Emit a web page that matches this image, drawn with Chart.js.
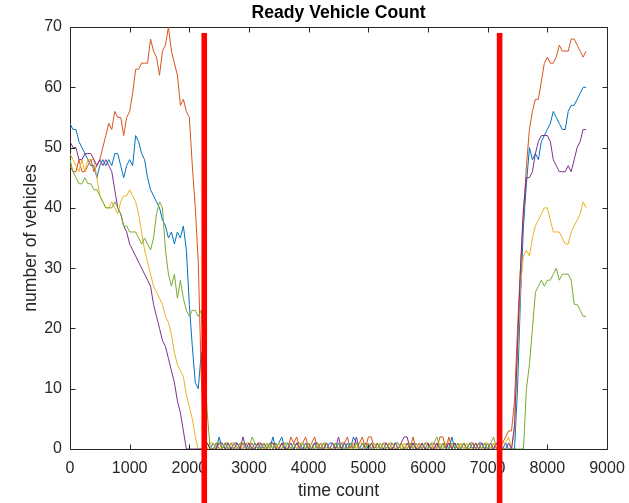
<!DOCTYPE html>
<html>
<head>
<meta charset="utf-8">
<script src="https://cdn.jsdelivr.net/npm/chart.js@4.4.0/dist/chart.umd.min.js"></script>
<style>
html,body{margin:0;padding:0;background:#fff;}
canvas{display:block;}
</style>
</head>
<body>
<canvas id="c" width="629" height="503"></canvas>
<script>
// ---------- data ----------
const timeCount = [
0,50,100,150,200,250,300,350,400,450,
500,550,600,650,700,750,800,850,900,950,
1000,1050,1100,1150,1200,1250,1300,1350,1400,1450,
1500,1550,1600,1650,1700,1750,1800,1850,1900,1950,
2000,2050,2100,2150,2200,2250,2300,2350,2400,2450,
2500,2550,2600,2650,2700,2750,2800,2850,2900,2950,
3000,3050,3100,3150,3200,3250,3300,3350,3400,3450,
3500,3550,3600,3650,3700,3750,3800,3850,3900,3950,
4000,4050,4100,4150,4200,4250,4300,4350,4400,4450,
4500,4550,4600,4650,4700,4750,4800,4850,4900,4950,
5000,5050,5100,5150,5200,5250,5300,5350,5400,5450,
5500,5550,5600,5650,5700,5750,5800,5850,5900,5950,
6000,6050,6100,6150,6200,6250,6300,6350,6400,6450,
6500,6550,6600,6650,6700,6750,6800,6850,6900,6950,
7000,7050,7100,7150,7200,7250,7300,7350,7400,7450,
7500,7550,7600,7650,7700,7750,7800,7850,7900,7950,
8000,8050,8100,8150,8200,8250,8300,8350,8400,8450,
8500,8550,8600,8650
];

// series 1 (blue)
const series1 = [
54,53,53,51,50,49,48,47,47,45, 47,48,47,48,47,49,49,47,45,47,
48,47,52,51,49,48,45,43,42,41, 40,38,37,35,36,34,36,35,37,33,
24,17,11,10,16,0,1,0,
1,0,2,0,1,0,0,1,1,0, 0,1,0,0,1,0,1,0,1,0, 2,0,1,2,0,1,0,0,1,1,
0,0,1,0,1,0,0,1,0,1, 1,0,1,0,0,1,0,2,1,0, 0,1,0,0,1,0,1,0,0,1,
0,1,1,0,0,1,0,1,0,0, 1,0,0,1,0,1,0,0,1,0, 2,0,1,0,1,0,0,1,0,1,
1,0,1,0,0,1,0,0,1,0,
0,0,10,25,37,44,50,48,49,48,51,52,53,54,56,55,54,53,53,56,57,57,58,59,60,60
];

// series 2 (orange)
const series2 = [
47,46,46,48,46,46,47,48,46,47, 48,50,52,54,53,56,55,55,52,55,
56,59,63,63,64,64,64,68,66,65, 62,66,67,70,66,64,62,57,58,56,
55,47,40,31,12,0,1,0,
0,1,0,0,1,1,0,1,0,0, 1,0,0,1,0,1,1,0,0,1, 0,1,0,1,0,0,2,1,2,0,
1,2,0,1,2,0,1,0,1,0, 0,1,0,1,1,2,0,1,0,1, 2,0,2,2,0,1,0,1,1,0,
1,0,0,1,0,1,0,2,0,1, 0,1,1,0,1,0,2,2,0,2, 0,1,0,1,0,0,1,1,0,1,
0,1,0,0,1,0,1,1,2,3,
3,8,20,30,39,47,53,56,58,58,61,64,65,64,64,65,67,66,66,66,68,68,67,66,65,66
];

// series 3 (yellow)
const series3 = [
49,48,47,46,48,46,48,48,48,45, 42,41,40,40,41,40,39,41,42,42,
43,42,41,39,36,33,31,29,27,26, 25,24,22,21,19,16,14,13,12,9,
7,5,2,0,0,0,0,1,
1,0,0,1,0,0,1,1,0,1, 0,1,1,0,0,1,0,0,1,0, 1,0,1,0,1,0,0,1,0,1,
1,0,0,1,0,1,0,1,0,0, 0,1,0,0,1,0,0,1,0,1, 1,0,1,0,1,0,1,0,0,1,
0,0,1,0,1,0,1,0,1,0, 1,0,0,1,0,0,1,0,1,1, 0,1,0,1,0,1,0,0,1,0,
0,1,1,0,1,0,0,1,1,2,
0,3,15,27,32,33,32,35,37,38,39,40,40,38,36,36,36,35,34,34,36,37,38,39,41,40
];

// series 4 (purple)
const series4 = [
51,50,50,48,48,49,49,49,48,47, 48,47,48,47,46,43,40,39,37,36,
34,33,32,31,30,29,28,27,24,22, 20,18,17,15,13,11,8,6,3,0,
0,0,0,0,0,0,1,0,
0,0,1,1,0,1,0,0,1,0, 2,0,1,0,0,1,0,1,0,1, 1,0,0,1,0,0,1,0,1,0,
0,1,0,0,1,1,0,0,1,0, 1,0,2,0,1,0,1,0,2,0, 1,0,0,1,0,1,0,0,1,0,
0,1,0,1,2,2,0,1,0,0, 1,0,1,0,0,1,0,1,0,1, 0,1,0,0,1,0,1,0,1,0,
1,0,0,1,0,1,1,0,0,1,
0,4,17,30,40,45,45,46,49,51,52,52,52,51,48,47,46,46,46,47,46,48,50,51,53,53
];

// series 5 (green)
const series5 = [
48,46,45,44,44,45,44,44,43,43, 42,41,40,40,40,41,40,39,37,37,
36,36,36,35,34,35,34,33,35,39, 41,40,33,29,27,29,25,28,25,23,
22,23,23,22,23,14,6,0,
0,1,1,0,1,0,1,0,0,1, 1,0,0,2,1,0,0,1,0,1, 0,1,0,0,1,1,0,1,0,0,
1,0,1,0,0,1,0,1,1,0, 0,1,0,1,0,0,1,0,1,0, 1,0,1,0,0,1,0,1,0,1,
1,0,0,1,0,0,1,0,1,0, 0,1,0,1,1,2,0,1,0,0, 1,0,1,0,1,0,1,0,0,1,
0,1,0,1,2,0,1,0,0,0,
0,0,0,0,0,10,14,20,26,27,28,27,28,28,29,30,28,29,29,29,28,24,24,23,22,22
];

const seriesColors = ['#0072BD','#D95319','#EDB120','#7E2F8E','#77AC30'];
const xTickValues = [0,1000,2000,3000,4000,5000,6000,7000,8000,9000];
const yTickValues = [0,10,20,30,40,50,60,70];
const markerTimes = [2250, 7200];
const markerRange = [69, -10];

// ---------- chart ----------
const FONT = "'Liberation Sans', Arial, Helvetica, sans-serif";
const allSeries = [series1, series2, series3, series4, series5];
allSeries.forEach((s, i) => {
  if (s.length !== timeCount.length) throw new Error('series' + (i+1) + ' length ' + s.length + ' vs ' + timeCount.length);
});

function toPoints(vals) { return timeCount.map((t, i) => ({x: t, y: vals[i]})); }

const datasets = allSeries.map((s, i) => ({
  data: toPoints(s),
  borderColor: seriesColors[i],
  borderWidth: 1,
  pointRadius: 0,
  tension: 0,
  fill: false,
  order: 5 - i
}));
markerTimes.forEach(t => {
  datasets.push({
    data: [{x: t, y: markerRange[0]}, {x: t, y: markerRange[1]}],
    borderColor: '#FF0000',
    borderWidth: 5.6,
    pointRadius: 0,
    fill: false,
    clip: false,
    order: -1
  });
});

const axisBox = {
  id: 'axisBox',
  beforeDatasetsDraw(chart) {
    const {ctx, chartArea: a} = chart;
    const xs = chart.scales.x, ys = chart.scales.y;
    const L = Math.round(a.left) + 0.5, R = Math.round(a.right) + 0.5;
    const T = Math.round(a.top) + 0.5, B = Math.round(a.bottom) + 0.5;
    const TL = 5;
    ctx.save();
    ctx.strokeStyle = '#262626';
    ctx.lineWidth = 1;
    ctx.beginPath();
    ctx.rect(L, T, R - L, B - T);
    xTickValues.forEach(v => {
      const px = Math.round(xs.getPixelForValue(v)) + 0.5;
      ctx.moveTo(px, B); ctx.lineTo(px, B - TL);
      ctx.moveTo(px, T); ctx.lineTo(px, T + TL);
    });
    yTickValues.forEach(v => {
      const py = Math.round(ys.getPixelForValue(v)) + 0.5;
      ctx.moveTo(L, py); ctx.lineTo(L + TL, py);
      ctx.moveTo(R, py); ctx.lineTo(R - TL, py);
    });
    ctx.stroke();
    ctx.restore();
  }
};

new Chart(document.getElementById('c'), {
  type: 'line',
  data: { datasets },
  plugins: [axisBox],
  options: {
    responsive: false,
    animation: false,
    events: [],
    layout: { padding: { left: 0, right: 22, top: 0, bottom: 0 } },
    plugins: {
      legend: { display: false },
      tooltip: { enabled: false },
      title: {
        display: true,
        text: 'Ready Vehicle Count',
        color: '#000000',
        fullSize: false,
        font: { family: FONT, size: 17.6, weight: 'bold', lineHeight: 1.2 },
        padding: { top: 3, bottom: 2.88 }
      }
    },
    scales: {
      x: {
        type: 'linear',
        min: 0, max: 9000,
        afterFit: s => { s.height = 54; s.paddingLeft = 0; s.paddingRight = 0; },
        afterBuildTicks: s => { s.ticks = xTickValues.map(v => ({value: v})); },
        grid: { display: false, drawTicks: false },
        border: { display: false },
        ticks: {
          color: '#262626', padding: 10, maxRotation: 0, autoSkip: false,
          font: { family: FONT, size: 16 },
          callback: v => String(v)
        },
        title: {
          display: true, text: 'time count', color: '#262626',
          font: { family: FONT, size: 17.6, lineHeight: 1.2 },
          padding: { top: 0, bottom: 1.5 }
        }
      },
      y: {
        type: 'linear',
        min: 0, max: 70,
        afterFit: s => { s.width = 70; },
        afterBuildTicks: s => { s.ticks = yTickValues.map(v => ({value: v})); },
        grid: { display: false, drawTicks: false },
        border: { display: false },
        ticks: {
          color: '#262626', padding: 8,
          font: { family: FONT, size: 16 },
          callback: v => String(v)
        },
        title: {
          display: true, text: 'number of vehicles', color: '#262626',
          font: { family: FONT, size: 17.6, lineHeight: 1.2 },
          padding: { top: 20.3, bottom: 0 }
        }
      }
    }
  }
});
</script>
</body>
</html>
